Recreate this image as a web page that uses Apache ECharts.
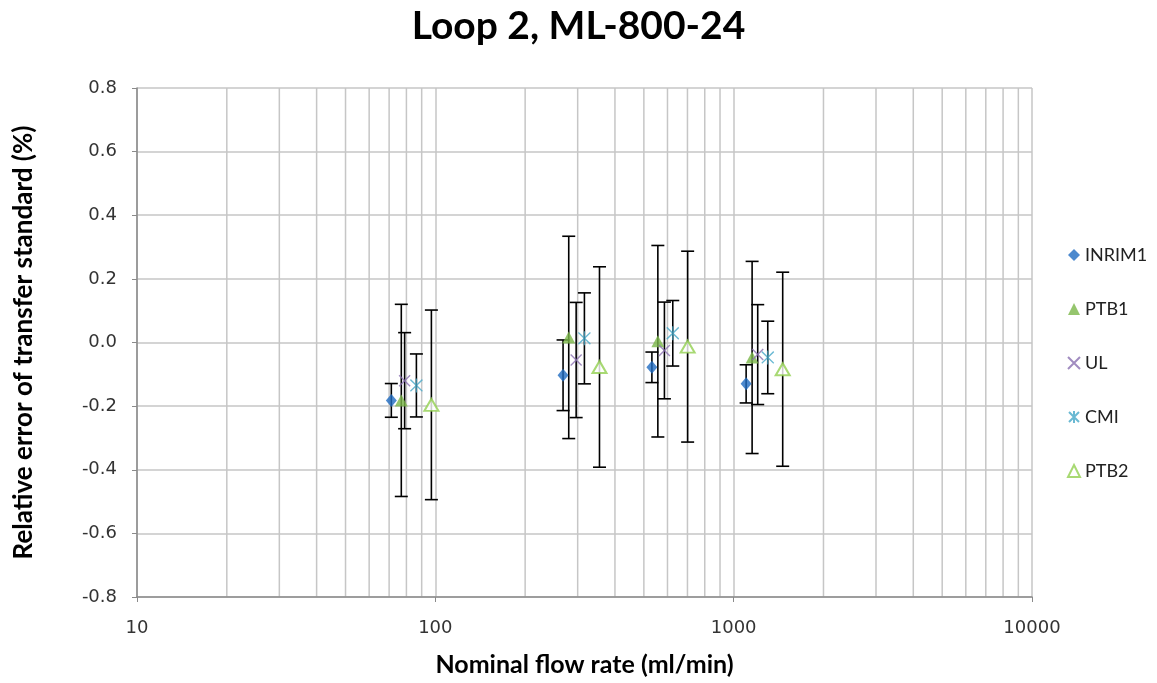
<!DOCTYPE html>
<html><head><meta charset="utf-8">
<script src="https://cdn.jsdelivr.net/npm/echarts@6/dist/echarts.min.js"></script>
<style>html,body{margin:0;padding:0;background:#fff}#c{width:1157px;height:683px}</style>
</head><body><div id="c"></div>
<script>
// ---- data ----
const seriesNames = ['INRIM1', 'PTB1', 'UL', 'CMI', 'PTB2'];
const inrim1X = [71.2, 268, 532, 1101];
const inrim1Y = [-0.182, -0.103, -0.078, -0.130];
const inrim1Err = [0.053, 0.111, 0.048, 0.060];
const ptb1X = [76.9, 280, 557, 1153];
const ptb1Y = [-0.182, 0.016, 0.004, -0.047];
const ptb1Err = [0.302, 0.318, 0.301, 0.302];
const ulX = [78.9, 296.5, 586, 1204];
const ulY = [-0.120, -0.055, -0.025, -0.038];
const ulErr = [0.151, 0.181, 0.152, 0.157];
const cmiX = [86.4, 316, 625, 1301];
const cmiY = [-0.135, 0.013, 0.029, -0.047];
const cmiErr = [0.099, 0.143, 0.103, 0.114];
const ptb2X = [97, 355, 701, 1460];
const ptb2Y = [-0.196, -0.077, -0.013, -0.084];
const ptb2Err = [0.298, 0.315, 0.300, 0.305];
const minorGridValues = [20,30,40,50,60,70,80,90,200,300,400,500,600,700,800,900,2000,3000,4000,5000,6000,7000,8000,9000];

const allX = [inrim1X, ptb1X, ulX, cmiX, ptb2X];
const allY = [inrim1Y, ptb1Y, ulY, cmiY, ptb2Y];
const allErr = [inrim1Err, ptb1Err, ulErr, cmiErr, ptb2Err];

const styles = [
  {symbol: 'diamond', symbolSize: [11, 13], itemStyle: {color: '#1F6CC2'}},
  {symbol: 'triangle', symbolSize: [13, 12], itemStyle: {color: '#7AB648'}},
  {symbol: 'path://M0,0L10,10M10,0L0,10', symbolSize: 11, itemStyle: {color: 'rgba(0,0,0,0)', borderColor: '#8A6FB0', borderWidth: 1.4}},
  {symbol: 'path://M0,0L10,10M10,0L0,10M5,-1L5,11', symbolSize: [12, 14], itemStyle: {color: 'rgba(0,0,0,0)', borderColor: '#45A8C8', borderWidth: 1.4}},
  {symbol: 'emptyTriangle', symbolSize: [14, 12], itemStyle: {color: '#92D050', borderWidth: 1.6}}
];

const series = [];
// minor log grid lines
series.push({
  type: 'custom', silent: true, z: 0,
  data: minorGridValues.map(v => [v]),
  encode: {x: 0},
  renderItem: function (params, api) {
    const v = api.value(0);
    const p1 = api.coord([v, 0.8]);
    const p2 = api.coord([v, -0.8]);
    return {type: 'line', shape: {x1: p1[0], y1: p1[1], x2: p2[0], y2: p2[1]},
            style: {stroke: '#c6c6c6', lineWidth: 1.5}};
  }
});
// error bars
allX.forEach((xs, si) => {
  series.push({
    type: 'custom', silent: true, z: 2,
    data: xs.map((x, i) => [x, allY[si][i] - allErr[si][i], allY[si][i] + allErr[si][i]]),
    encode: {x: 0, y: [1, 2]},
    renderItem: function (params, api) {
      const x = api.value(0);
      const lo = api.coord([x, api.value(1)]);
      const hi = api.coord([x, api.value(2)]);
      const w = 6.5;
      const st = {stroke: '#000', lineWidth: 1.6};
      return {type: 'group', children: [
        {type: 'line', shape: {x1: lo[0], y1: lo[1], x2: hi[0], y2: hi[1]}, style: st},
        {type: 'line', shape: {x1: lo[0] - w, y1: lo[1], x2: lo[0] + w, y2: lo[1]}, style: st},
        {type: 'line', shape: {x1: hi[0] - w, y1: hi[1], x2: hi[0] + w, y2: hi[1]}, style: st}
      ]};
    }
  });
});
// markers
allX.forEach((xs, si) => {
  series.push(Object.assign({
    type: 'scatter', name: seriesNames[si], z: 3,
    data: xs.map((x, i) => [x, allY[si][i]])
  }, styles[si]));
});

const chart = echarts.init(document.getElementById('c'));
chart.setOption({
  animation: false,
  backgroundColor: '#fff',
  title: {
    text: 'Loop 2, ML-800-24', left: 'center', top: 2,
    textStyle: {fontFamily: 'Lato', fontWeight: 'bold', fontSize: 39, color: '#000'}
  },
  legend: {
    orient: 'vertical', left: 1062, top: 241,
    itemWidth: 12, itemHeight: 12, itemGap: 36,
    data: seriesNames,
    textStyle: {fontFamily: 'Lato', fontSize: 18, color: '#222'}
  },
  grid: {left: 137, right: 125, top: 88, bottom: 86, containLabel: false},
  xAxis: {
    type: 'log', logBase: 10, min: 10, max: 10000,
    name: 'Nominal flow rate (ml/min)', nameLocation: 'middle', nameGap: 55,
    nameTextStyle: {fontFamily: 'Lato', fontWeight: 'bold', fontSize: 25, color: '#000'},
    axisLine: {show: true, onZero: false, lineStyle: {color: '#8a8a8a', width: 1.5}},
    axisTick: {show: true, length: 5, lineStyle: {color: '#8a8a8a'}},
    axisLabel: {fontFamily: 'DejaVu Sans', fontSize: 18, color: '#333', margin: 22,
      formatter: v => String(Math.round(v))},
    splitLine: {show: true, lineStyle: {color: '#c6c6c6', width: 1.5}},
    minorTick: {show: false}
  },
  yAxis: {
    type: 'value', min: -0.8, max: 0.8, interval: 0.2,
    name: 'Relative error of transfer standard (%)', nameLocation: 'middle', nameGap: 100,
    nameTextStyle: {fontFamily: 'Lato', fontWeight: 'bold', fontSize: 26, color: '#000'},
    axisLine: {show: true, lineStyle: {color: '#8a8a8a', width: 1.5}},
    axisTick: {show: true, length: 5, lineStyle: {color: '#8a8a8a'}},
    axisLabel: {fontFamily: 'DejaVu Sans', fontSize: 18, color: '#333', margin: 20,
      formatter: v => (Math.abs(v) < 1e-9 ? 0 : v).toFixed(1)},
    splitLine: {show: true, lineStyle: {color: '#c6c6c6', width: 1.5}}
  },
  series: series
});
</script></body></html>
